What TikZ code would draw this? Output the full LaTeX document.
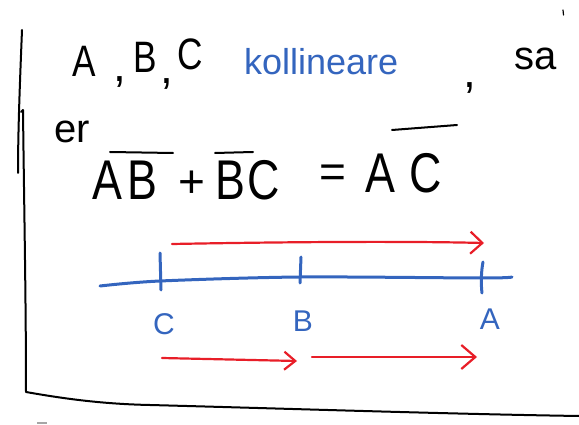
\documentclass[tikz,border=0pt]{standalone}
\usepackage{fontspec}
\setmainfont{Liberation Sans}
\usetikzlibrary{arrows.meta}
\definecolor{inkblue}{RGB}{52,101,190}
\definecolor{inkred}{RGB}{232,30,40}
\newcommand{\narrow}[1]{\scalebox{0.8}[1]{#1}}
\tikzset{
  ink/.style={line width=2pt,line cap=round,line join=round},
  blueink/.style={ink,draw=inkblue,line width=3pt},
  redarrow/.style={ink,draw=inkred,line width=2.2pt,-{Straight Barb[length=12pt,width=22pt,line width=2.2pt]}},
  txt/.style={inner sep=0pt,anchor=base},
  big/.style={txt,font=\fontsize{44}{48}\selectfont},
  comma/.style={txt,font=\fontsize{46}{50}\selectfont},
  eq/.style={txt,font=\fontsize{56}{60}\selectfont},
  lbl/.style={txt,text=inkblue,font=\fontsize{30}{34}\selectfont},
}
\begin{document}
\begin{tikzpicture}[x=1pt,y=-1pt]
\useasboundingbox (0,0) rectangle (579,425);
% frame strokes
\draw[ink] (22,30) .. controls (20,80) and (18,130) .. (18,173);
\draw[ink] (21,112) -- (23,110) .. controls (24,200) and (26,300) .. (26,392)
  .. controls (60,398) and (100,404) .. (150,405) .. controls (300,409) and (450,414) .. (579,416);
\draw[ink,line width=1.2pt] (563,10) -- (563.5,15);
\draw[line width=1.2pt,draw=black!35] (37,423) -- (47,423);
% first line
\node[big] (tA) at (84,77) {\narrow{A}};
\node[comma] (c1) at (120,82) {,};
\node[big] (tB) at (145,73) {\narrow{B}};
\node[comma] (c2) at (167,84) {,};
\node[big] (tC) at (190,70) {\narrow{C}};
\node[txt,anchor=base west,text=inkblue,font=\fontsize{36}{40}\selectfont] (koll) at (244,75) {kollineare};
\node[comma] (c3) at (470,88) {,};
\node[txt,anchor=base west,font=\fontsize{40}{44}\selectfont] (sa) at (514,70) {sa};
% second line
\node[txt,anchor=base west,font=\fontsize{40}{44}\selectfont] (er) at (54,143) {er};
\node[eq] (eA1) at (107,200) {\narrow{A}};
\node[eq] (eB1) at (142,200) {\narrow{B}};
\node[txt,anchor=center,font=\fontsize{46}{50}\selectfont] (plus) at (192,184) {+};
\node[eq] (eB2) at (230,200) {\narrow{B}};
\node[eq] (eC2) at (264,200) {\narrow{C}};
\node[txt,anchor=center,font=\fontsize{46}{50}\selectfont] (eqs) at (333,176) {=};
\node[eq] (eA3) at (380,193) {\narrow{A}};
\node[eq] (eC3) at (426,193) {\narrow{C}};
\draw[ink] (110,152) -- (173,153);
\draw[ink] (215,153) -- (253,152);
\draw[ink] (392,130) -- (457,125);
% number line
\draw[blueink] plot[smooth] coordinates {(100,286) (160,281) (300,277) (482,278) (512,277)};
\draw[blueink] (160,253) -- (161,290);
\draw[blueink] (301,257) -- (300,283);
\draw[blueink] (483,262) .. controls (481,272) and (481,285) .. (482,293);
\node[lbl] (lC) at (164,334) {C};
\node[lbl] (lB) at (303,331) {B};
\node[lbl] (lA) at (490,329) {A};
% red arrows
\coordinate (t1) at (172,244);
\coordinate (t2) at (484,243);
\coordinate (b1) at (162,358);
\coordinate (b2) at (297,361);
\coordinate (b3) at (312,357);
\coordinate (b4) at (477,357);
\draw[redarrow] (t1) .. controls (280,242) and (400,241) .. (t2);
\draw[redarrow,-{Straight Barb[length=11pt,width=18pt,line width=2.2pt]}] (b1) -- (b2);
\draw[redarrow,-{Straight Barb[length=14pt,width=24pt,line width=2.2pt]}] (b3) -- (b4);
\end{tikzpicture}
\end{document}
